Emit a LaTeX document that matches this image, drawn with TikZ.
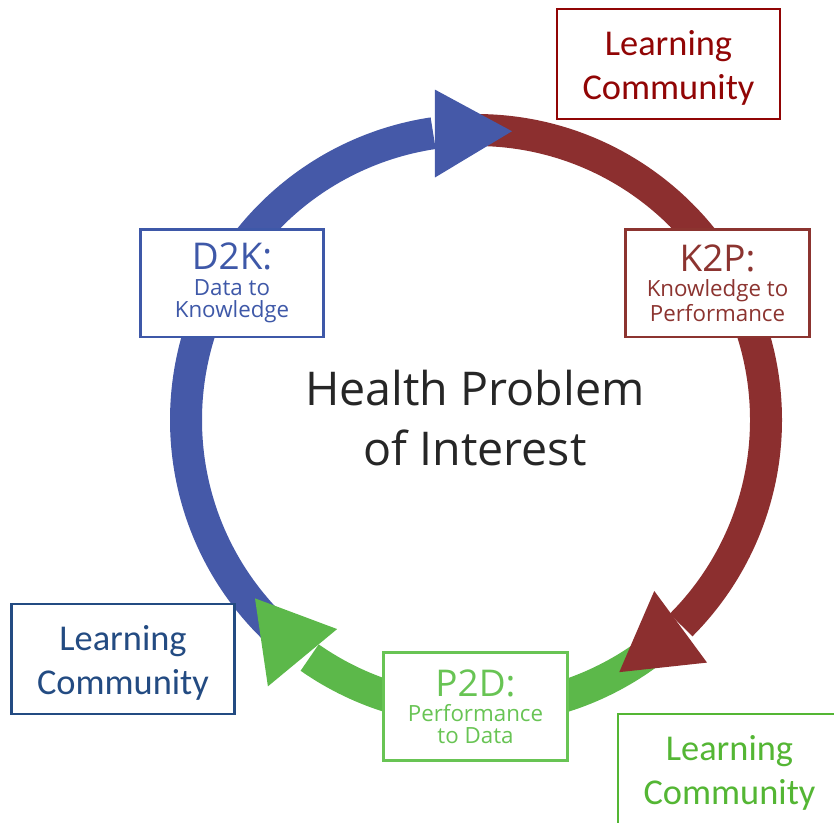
\documentclass[tikz,border=0pt]{standalone}
\usepackage{fontspec}
\setmainfont{Open Sans}
\newfontfamily\lcfont{Carlito}
\usetikzlibrary{positioning}

\definecolor{arcblue}{RGB}{69,89,168}
\definecolor{arcred}{RGB}{140,47,47}
\definecolor{arcgreen}{RGB}{92,184,74}
\definecolor{dkblue}{RGB}{62,88,168}
\definecolor{kpred}{RGB}{140,52,48}
\definecolor{pdgreen}{RGB}{104,196,84}
\definecolor{lcred}{RGB}{145,5,5}
\definecolor{lcblue}{RGB}{35,75,130}
\definecolor{lcgreen}{RGB}{84,182,52}
\definecolor{hptext}{RGB}{38,38,38}

\begin{document}
\begin{tikzpicture}[x=0.02cm, y=0.02cm,
        shaft/.style={line width=0.64cm},
        stagebox/.style={draw=#1, text=#1, line width=1.7pt, fill=white, minimum width=3.68cm, minimum height=2.16cm,
            inner sep=0pt, align=center, font=\fontsize{12.7}{12.5}\selectfont},
        lcbox/.style={draw=#1, text=#1, line width=1.3pt, fill=white, minimum width=4.46cm, minimum height=2.2cm,
            inner sep=0pt, align=center, font=\lcfont\fontsize{20.7}{25}\selectfont}]
    \useasboundingbox (0,0) rectangle (834,-822);
    \clip (0,0) rectangle (834,-822);
    \coordinate (c) at (476,-420);
    \begin{scope}[shift={(c)}]
        \draw [shaft, arcblue] (226:290) arc [start angle=226, end angle=98.5, radius=290];
        \draw [shaft, arcred] (90:290) arc [start angle=90, end angle=-45, radius=290];
        \draw [shaft, arcgreen] (-53:290) arc [start angle=-53, end angle=-125, radius=290];
        \fill [arcblue] (99.6:246) -- (97.1:333) -- (82.9:291) -- cycle;
        \fill [arcred] (-43.8:247) -- (-46.4:335) -- (-60.4:290) -- cycle;
        \fill [arcgreen] (236.4:251) -- (232:338) -- (218.9:284) -- cycle;
    \end{scope}
    \node [stagebox=dkblue] (d2k) at (232,-283) {{\fontsize{21}{21}\selectfont D2K:}\\[2pt] Data to\\ Knowledge};
    \node [stagebox=kpred] (k2p) at (717.5,-283) {{\fontsize{21}{21}\selectfont K2P:}\\[2pt] Knowledge to\\ Performance};
    \node [stagebox=pdgreen] (p2d) at (475.5,-706.5) {{\fontsize{21}{21}\selectfont P2D:}\\[2pt] Performance\\ to Data};
    \node [align=center, text=hptext, font=\fontsize{26.5}{34.6}\selectfont] (hpi) at (475,-418) {Health Problem\\ of Interest};
    \node [lcbox=lcred] (lctop) at (668.5,-64) {\rule{0pt}{19pt}Learning\\ Community};
    \node [lcbox=lcblue] (lcleft) at (123,-659) {\rule{0pt}{19pt}Learning\\ Community};
    \node [lcbox=lcgreen] (lcright) at (729.5,-769) {\rule{0pt}{19pt}Learning\\ Community};
\end{tikzpicture}
\end{document}
